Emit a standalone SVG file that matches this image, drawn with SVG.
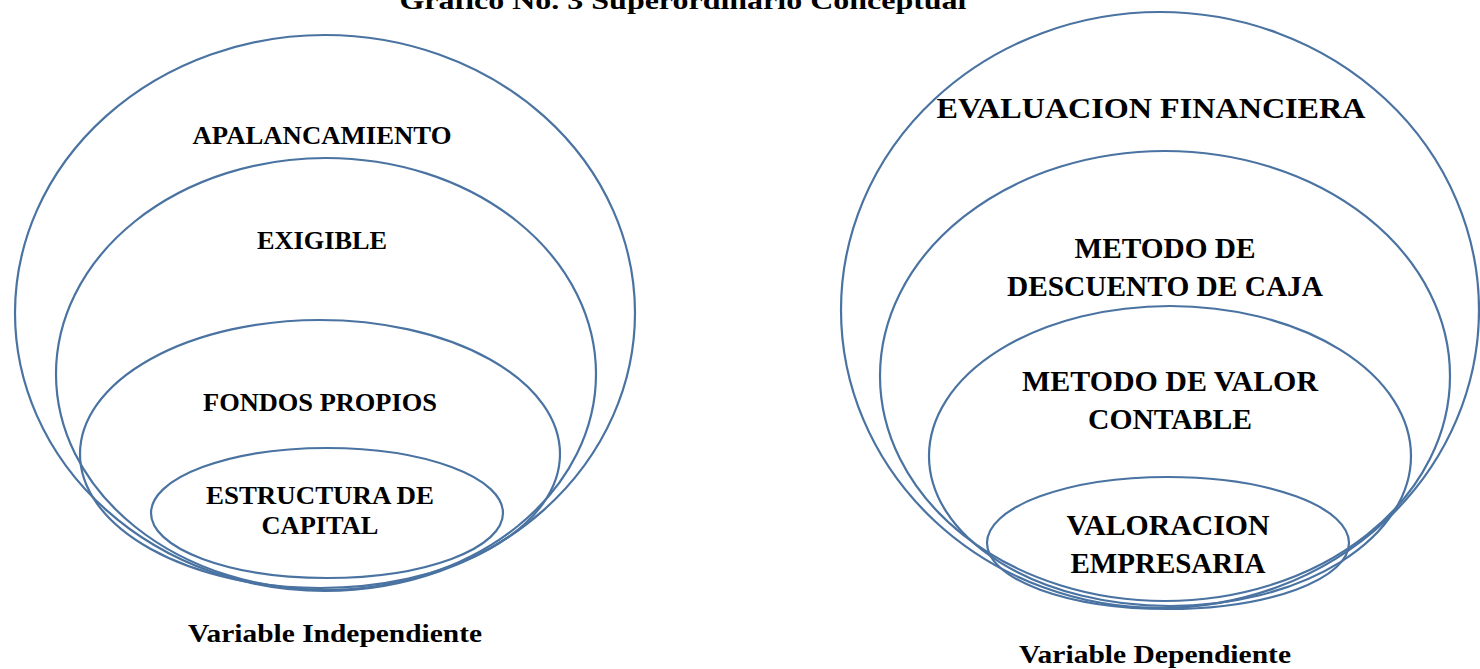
<svg xmlns="http://www.w3.org/2000/svg" width="1480" height="669" viewBox="0 0 1480 669">
<style>
.e{fill:none;stroke:#4a73a2;stroke-width:2.2}
.t{font-family:"Liberation Serif","Times New Roman",serif;font-weight:bold;fill:#000;text-anchor:middle}
.l{font-size:26px}
.r{font-size:29px}
</style>
<rect width="1480" height="669" fill="#fff"/>
<text class="t" x="683" y="9" font-size="25" textLength="567" lengthAdjust="spacingAndGlyphs">Gráfico No. 3 Superordinario Conceptual</text>
<g id="apalancamiento"><ellipse class="e" cx="325" cy="313" rx="310" ry="278"/><text class="t l" x="322" y="144" textLength="259" lengthAdjust="spacingAndGlyphs">APALANCAMIENTO</text></g>
<g id="exigible"><ellipse class="e" cx="326" cy="374" rx="270" ry="216"/><text class="t l" x="322" y="249" textLength="130" lengthAdjust="spacingAndGlyphs">EXIGIBLE</text></g>
<g id="fondos"><ellipse class="e" cx="320" cy="454" rx="240" ry="134"/><text class="t l" x="320" y="411" textLength="234" lengthAdjust="spacingAndGlyphs">FONDOS PROPIOS</text></g>
<g id="estructura"><ellipse class="e" cx="327" cy="513" rx="176" ry="65"/><text class="t l" x="320" y="504" textLength="228" lengthAdjust="spacingAndGlyphs">ESTRUCTURA DE</text><text class="t l" x="320" y="534" textLength="117" lengthAdjust="spacingAndGlyphs">CAPITAL</text></g>
<text class="t" x="335" y="642" font-size="25" textLength="294" lengthAdjust="spacingAndGlyphs">Variable Independiente</text>
<g id="evaluacion"><ellipse class="e" cx="1160" cy="310" rx="319" ry="298"/><text class="t" x="1151" y="118" font-size="30" textLength="429" lengthAdjust="spacingAndGlyphs">EVALUACION FINANCIERA</text></g>
<g id="descuento"><ellipse class="e" cx="1165" cy="376" rx="285" ry="225"/><text class="t r" x="1165" y="258" textLength="181" lengthAdjust="spacingAndGlyphs">METODO DE</text><text class="t r" x="1165" y="296" textLength="316" lengthAdjust="spacingAndGlyphs">DESCUENTO DE CAJA</text></g>
<g id="contable"><ellipse class="e" cx="1170" cy="456" rx="241" ry="150"/><text class="t r" x="1170" y="391" textLength="296" lengthAdjust="spacingAndGlyphs">METODO DE VALOR</text><text class="t r" x="1170" y="429" textLength="164" lengthAdjust="spacingAndGlyphs">CONTABLE</text></g>
<g id="valoracion"><ellipse class="e" cx="1168" cy="543" rx="181" ry="66"/><text class="t r" x="1168" y="535" textLength="203" lengthAdjust="spacingAndGlyphs">VALORACION</text><text class="t r" x="1168" y="573" textLength="195" lengthAdjust="spacingAndGlyphs">EMPRESARIA</text></g>
<text class="t" x="1155" y="663" font-size="25" textLength="272" lengthAdjust="spacingAndGlyphs">Variable Dependiente</text>
<g id="connectors"/>
</svg>
